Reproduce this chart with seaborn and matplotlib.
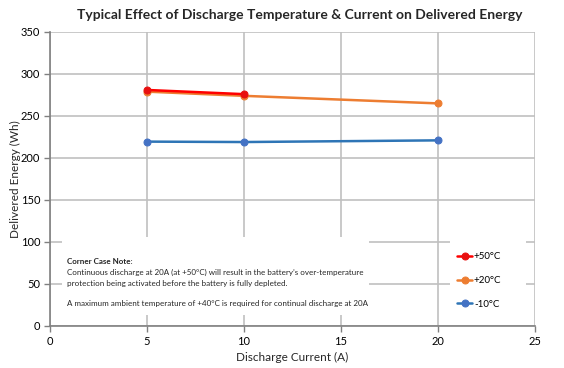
"""
Typical effect of discharge temperature & current on delivered energy
"""

import pandas as pd
import matplotlib.pyplot as plt
import matplotlib.patches as mpatches
import seaborn as sns

# ---- data ----
current = [5, 10, 20]
energy_50 = [281, 276]            # +50°C, no 20A point
energy_20 = [279, 274, 265]
energy_m10 = [219.5, 219, 221]

series_labels = ['+50°C', '+20°C', '-10°C']
colors = ['#FF0000', '#ED7D31', '#2E75B6']
marker_colors = ['#E81010', '#ED7D31', '#4472C4']

x_ticks = [0, 5, 10, 15, 20, 25]
y_ticks = [0, 50, 100, 150, 200, 250, 300, 350]

rows = []
for lab, vals in zip(series_labels, [energy_50, energy_20, energy_m10]):
    for c, v in zip(current, vals):
        rows.append({'current': c, 'energy': v, 'temp': lab})
df = pd.DataFrame(rows)

# ---- style ----
sns.set_style("white")
plt.rcParams['font.family'] = ['Lato', 'DejaVu Sans']

fig = plt.figure(figsize=(5.64, 3.68), dpi=100)
ax = fig.add_axes([50 / 564, 1 - 326 / 368, 485 / 564, 294 / 368])

for i, lab in enumerate(series_labels):
    sub = df[df['temp'] == lab]
    sns.lineplot(data=sub, x='current', y='energy', ax=ax, color=colors[i],
                 marker='o', markersize=5, markerfacecolor=marker_colors[i],
                 markeredgecolor=marker_colors[i], linewidth=1.8, label=lab,
                 zorder=3.2 if i == 0 else 3 - i * 0.1)

ax.set_xlim(0, 25)
ax.set_ylim(0, 350)
ax.set_xticks(x_ticks)
ax.set_yticks(y_ticks)
ax.set_axisbelow(True)
ax.grid(True, color='#C0C0C0', linewidth=1.2)
for s in ['top', 'right']:
    ax.spines[s].set_visible(False)
for s in ['left', 'bottom']:
    ax.spines[s].set_color('#808080')
    ax.spines[s].set_linewidth(1.2)
ax.tick_params(axis='both', which='both', length=4, width=1, color='#808080',
               labelsize=8, labelcolor='#000000', direction='out', pad=3,
               left=True, bottom=True)

ax.set_xlabel('Discharge Current (A)', fontsize=8.5)
ax.set_ylabel('Delivered Energy (Wh)', fontsize=8.5, labelpad=0)
fig.suptitle('Typical Effect of Discharge Temperature & Current on Delivered Energy',
             fontsize=10, fontweight='bold', x=0.532, y=0.975)

# white panels covering the grid behind the note and the legend
ax.add_patch(mpatches.Rectangle((0.025, 0.037), 0.633, 0.266, transform=ax.transAxes,
                                facecolor='white', edgecolor='none', zorder=1))
ax.add_patch(mpatches.Rectangle((0.825, 0.02), 0.156, 0.273, transform=ax.transAxes,
                                facecolor='white', edgecolor='none', zorder=1))

note_x = 0.035
ax.text(note_x, 0.218, 'Corner Case Note:', transform=ax.transAxes, fontsize=5.8,
        fontweight='bold', va='center', zorder=4)
ax.text(note_x, 0.183,
        'Continuous discharge at 20A (at +50°C) will result in the battery\u2019s over-temperature',
        transform=ax.transAxes, fontsize=5.8, va='center', zorder=4)
ax.text(note_x, 0.146,
        'protection being activated before the battery is fully depleted.',
        transform=ax.transAxes, fontsize=5.8, va='center', zorder=4)
ax.text(note_x, 0.078,
        'A maximum ambient temperature of +40°C is required for continual discharge at 20A',
        transform=ax.transAxes, fontsize=5.8, va='center', zorder=4)

leg = ax.legend(loc='center left', bbox_to_anchor=(0.83, 0.155), frameon=False,
                fontsize=7, handlelength=1.5, handletextpad=0.2, labelspacing=1.5,
                borderpad=0)
for t in leg.get_texts():
    t.set_color('#000000')

plt.savefig('out.png', dpi=100)
